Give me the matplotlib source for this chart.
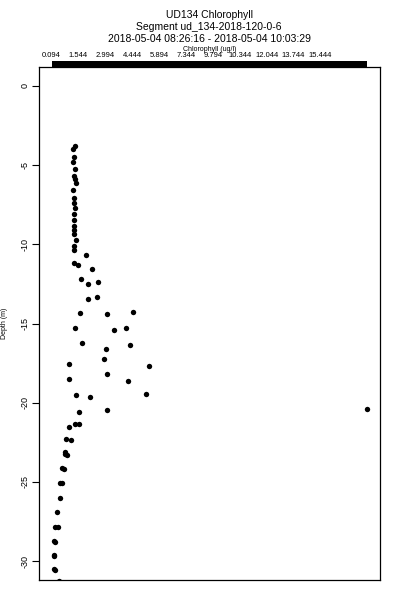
import numpy as np
import matplotlib
matplotlib.use('Agg')
import matplotlib.pyplot as plt
from matplotlib.patches import Rectangle
import matplotlib.transforms as mtransforms

plt.rcParams['font.family'] = ['Liberation Sans', 'DejaVu Sans']

# chlorophyll (ug/l) and depth (m)
chl = [1.334, 1.242, 1.318, 1.242, 1.334, 1.296, 1.334, 1.388, 1.242, 1.318,
       1.296, 1.334, 1.280, 1.296, 1.318, 1.280, 1.280, 1.426, 1.280, 1.318,
       1.927, 1.280, 1.496, 2.250, 1.700, 2.078, 2.612, 2.035, 2.547, 1.603,
       3.075, 4.461, 1.334, 3.463, 4.094, 1.749, 3.048, 4.299, 2.924, 1.048,
       5.339, 3.059, 1.027, 4.207, 1.388, 2.180, 5.178, 1.587, 3.059, 17.129,
       1.054, 1.361, 1.576, 0.886, 1.145, 0.833, 0.940, 0.768, 0.633, 0.525,
       0.390, 0.283, 0.417, 0.229, 0.218, 0.202, 0.293, 0.488,
       0.800, 0.660, 0.560, 0.250, 0.240]
depth = [-3.77, -4.00, -4.47, -4.83, -5.27, -5.70, -5.87, -6.12, -6.58, -7.09,
         -7.42, -7.72, -8.10, -8.44, -8.86, -9.11, -9.32, -9.75, -10.11, -10.34,
         -10.65, -11.18, -11.28, -11.56, -12.20, -12.49, -12.36, -13.46, -13.31, -14.32,
         -14.42, -14.26, -15.27, -15.38, -15.27, -16.25, -16.60, -16.34, -17.25, -17.54,
         -17.67, -18.18, -18.53, -18.64, -19.51, -19.62, -19.46, -20.58, -20.46, -20.42,
         -21.53, -21.36, -21.36, -22.30, -22.37, -23.22, -23.31, -24.19, -25.09, -25.99,
         -26.91, -27.83, -27.83, -28.72, -29.66, -30.51, -30.59, -31.27,
         -23.10, -24.12, -25.05, -28.80, -29.60]

chl_min = 0.094
top_labels = ['0.094', '1.544', '2.994', '4.444', '5.894', '7.344',
              '9.794', '10.344', '12.044', '13.744', '15.444']
top_pos = [chl_min + 1.45 * i for i in range(len(top_labels))]
depth_ticks = [0, -5, -10, -15, -20, -25, -30]

fig = plt.figure(figsize=(4, 6), dpi=100)
ax = fig.add_axes([39 / 400, 20 / 600, 341 / 400, 513 / 600])

ax.scatter(chl, depth, s=15, c='black', linewidths=0, zorder=3)

cmax = max(chl)
span = cmax - chl_min
ax.set_xlim(chl_min - 0.04 * span, cmax + 0.04 * span)
ax.set_ylim(-31.2, 1.2)

ax.set_xticks([])
ax.set_yticks(depth_ticks)
ax.set_yticklabels([str(t) for t in depth_ticks], rotation=90, va='center', fontsize=6.5)
ax.tick_params(axis='y', length=5, width=0.8, pad=2)
for sp in ax.spines.values():
    sp.set_linewidth(0.9)
ax.set_ylabel('Depth (m)', fontsize=5, labelpad=9)

# thick bar spanning the data range along the top
trans = mtransforms.blended_transform_factory(ax.transData, ax.transAxes)
ax.add_patch(Rectangle((chl_min, 1.0), cmax - chl_min, 6 / 513, transform=trans,
                       facecolor='black', edgecolor='none', clip_on=False))

ax2 = ax.twiny()
ax2.set_xlim(ax.get_xlim())
ax2.set_xticks(top_pos)
ax2.set_xticklabels(top_labels, fontsize=5.5)
ax2.tick_params(axis='x', length=0, pad=6)
for sp in ax2.spines.values():
    sp.set_visible(False)
ax2.set_xlabel('Chlorophyll (ug/l)', fontsize=5, labelpad=0.5)

fig.text(209 / 400, 1 - 15 / 600, 'UD134 Chlorophyll', ha='center', va='center', fontsize=7.5)
fig.text(209 / 400, 1 - 27 / 600, 'Segment ud_134-2018-120-0-6', ha='center', va='center', fontsize=7.5)
fig.text(209 / 400, 1 - 39 / 600, '2018-05-04 08:26:16 - 2018-05-04 10:03:29',
         ha='center', va='center', fontsize=7.5)

fig.savefig('out.png', dpi=100)
